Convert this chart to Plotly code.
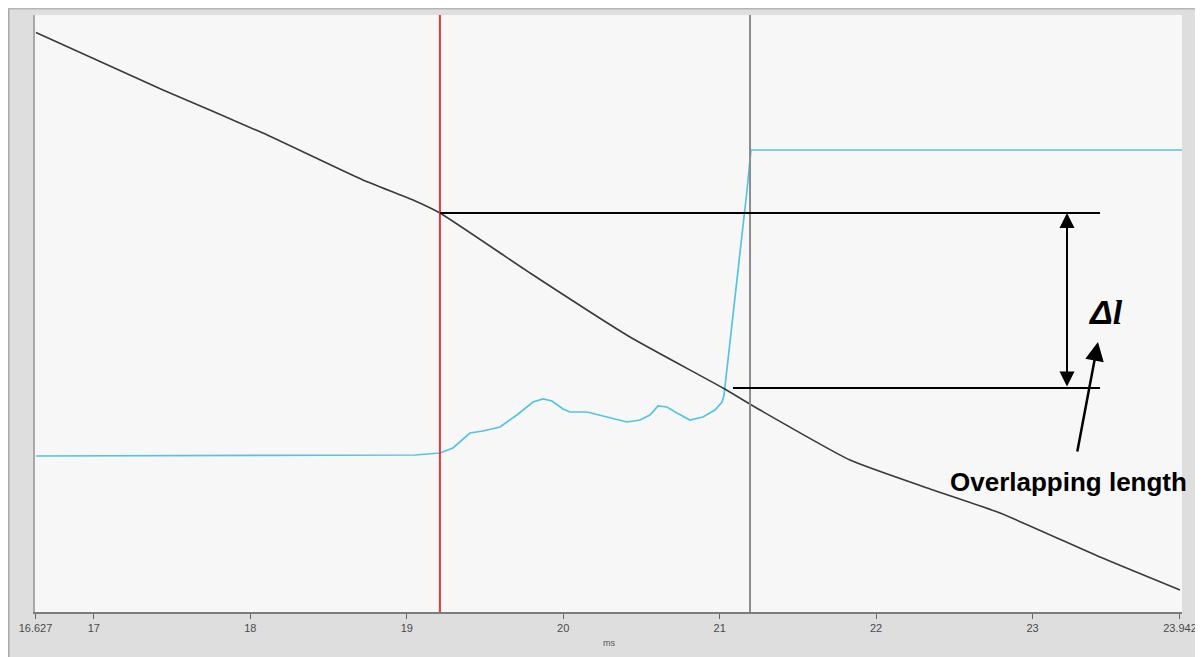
import plotly.graph_objects as go

# ---------------- data ----------------
x_tick_values = [16.627, 17, 18, 19, 20, 21, 22, 23, 23.942]
x_tick_labels = ["16.627", "17", "18", "19", "20", "21", "22", "23", "23.942"]

black_x = [16.630, 17.442, 18.081, 18.720, 19.040, 19.212, 19.788, 20.427,
           21.021, 21.258, 21.833, 22.364, 22.792, 23.431, 23.942]
black_y = [97.07, 87.44, 80.23, 72.36, 69.01, 66.83, 56.78, 46.06,
           37.52, 33.84, 25.46, 20.44, 16.58, 9.21, 3.69]

cyan_x = [16.630, 19.053, 19.212, 19.295, 19.404, 19.487, 19.596, 19.704,
          19.807, 19.871, 19.928, 19.999, 20.043, 20.152, 20.280, 20.407,
          20.491, 20.554, 20.606, 20.663, 20.727, 20.810, 20.893, 20.970,
          21.015, 21.028, 21.175, 21.200, 23.955]
cyan_y = [26.13, 26.30, 26.63, 27.47, 29.98, 30.32, 30.99, 33.00,
          35.18, 35.68, 35.34, 34.00, 33.50, 33.50, 32.66, 31.83,
          32.16, 33.00, 34.51, 34.34, 33.33, 32.16, 32.66, 33.84,
          35.18, 36.35, 70.69, 77.39, 77.39]

red_cursor_x = 19.212
gray_cursor_x = 21.194

# annotation geometry (data units)
upper_level_y = 66.83
lower_level_y = 37.52
upper_line_x = [19.212, 23.431]
lower_line_x = [21.085, 23.431]
delta_arrow_x = 23.220
pointer_tail = (23.284, 26.63)
pointer_head = (23.418, 45.23)
delta_label_pos = (23.463, 50.25)
overlap_label_pos = (23.232, 21.78)

X_RANGE = [16.624, 23.955]
Y_RANGE = [0, 100]

# ---------------- figure ----------------
fig = go.Figure()

fig.add_trace(go.Scatter(x=cyan_x, y=cyan_y, mode="lines",
                         line=dict(color="#55c3e6", width=1.7),
                         showlegend=False, hoverinfo="skip"))
fig.add_trace(go.Scatter(x=black_x, y=black_y, mode="lines",
                         line=dict(color="#3a3a3a", width=1.6,
                                   shape="spline", smoothing=0.5),
                         showlegend=False, hoverinfo="skip"))

# figure sits at page offset (8, 8); plot area 1147 x 597
L, T, PW, PH = 27, 7, 1147.0, 597.0
FW, FH = 1195, 649

def fx(p):   # figure-pixel x -> paper
    return (p - L) / PW
def fy(p):   # figure-pixel y -> paper
    return (T + PH - p) / PH

shapes = []
# panel border (top and left edges)
shapes.append(dict(type="line", xref="paper", yref="paper",
                   x0=fx(0.75), x1=fx(0.75), y0=fy(FH), y1=fy(0),
                   line=dict(color="#a9a9a9", width=1.5)))
shapes.append(dict(type="line", xref="paper", yref="paper",
                   x0=fx(0), x1=fx(FW), y0=fy(0.75), y1=fy(0.75),
                   line=dict(color="#b5b5b5", width=1.5)))

# cursors
shapes.append(dict(type="line", xref="x", yref="paper",
                   x0=red_cursor_x, x1=red_cursor_x, y0=0, y1=1,
                   line=dict(color="#e2383a", width=2)))
shapes.append(dict(type="line", xref="x", yref="paper",
                   x0=gray_cursor_x, x1=gray_cursor_x, y0=0, y1=1,
                   line=dict(color="#8c8c8c", width=2)))

# annotation level lines
shapes.append(dict(type="line", xref="x", yref="y",
                   x0=upper_line_x[0], x1=upper_line_x[1],
                   y0=upper_level_y, y1=upper_level_y,
                   line=dict(color="black", width=2)))
shapes.append(dict(type="line", xref="x", yref="y",
                   x0=lower_line_x[0], x1=lower_line_x[1],
                   y0=lower_level_y, y1=lower_level_y,
                   line=dict(color="black", width=2)))

annotations = []
annotations.append(dict(x=delta_arrow_x, y=upper_level_y, xref="x", yref="y",
                        ax=delta_arrow_x, ay=lower_level_y, axref="x", ayref="y",
                        text="", showarrow=True, arrowside="end+start",
                        arrowhead=2, startarrowhead=2, arrowsize=1.5,
                        startarrowsize=1.5, arrowwidth=2, arrowcolor="black",
                        standoff=0, startstandoff=0))
annotations.append(dict(x=pointer_head[0], y=pointer_head[1], xref="x", yref="y",
                        ax=pointer_tail[0], ay=pointer_tail[1], axref="x", ayref="y",
                        text="", showarrow=True, arrowhead=2, arrowsize=1.5,
                        arrowwidth=2.5, arrowcolor="black", standoff=0))
annotations.append(dict(x=delta_label_pos[0], y=delta_label_pos[1], xref="x", yref="y",
                        text="<b><i>Δ</i></b><b><i><span style=\"font-family:'Liberation Serif'\">l</span></i></b>",
                        showarrow=False,
                        font=dict(family="Liberation Sans, Arial", size=34, color="black")))
annotations.append(dict(x=overlap_label_pos[0], y=overlap_label_pos[1], xref="x", yref="y",
                        text="<b>Overlapping length</b>", showarrow=False,
                        font=dict(family="Liberation Sans, Arial", size=26, color="black")))
annotations.append(dict(x=0.5, y=fy(643 - 8), xref="paper", yref="paper",
                        xanchor="center", yanchor="middle",
                        text="ms", showarrow=False,
                        font=dict(family="Liberation Sans, Arial", size=9, color="#555")))

fig.update_layout(
    width=FW, height=FH,
    margin=dict(l=L, r=FW - L - int(PW), t=T, b=FH - T - int(PH), pad=0),
    paper_bgcolor="#dedede",
    plot_bgcolor="#f7f7f7",
    shapes=shapes,
    annotations=annotations,
    showlegend=False,
    xaxis=dict(range=X_RANGE, tickmode="array", tickvals=x_tick_values,
               ticktext=x_tick_labels, showgrid=False, zeroline=False,
               showline=True, linecolor="#7d7d7d", linewidth=2,
               ticks="outside", ticklen=5, tickcolor="#666", tickwidth=1,
               tickfont=dict(family="Liberation Sans, Arial", size=11, color="#4a4a4a")),
    yaxis=dict(range=Y_RANGE, showticklabels=False, showgrid=False, zeroline=False,
               showline=True, linecolor="#a8a8a8", linewidth=2, ticks=""),
)

fig.write_html("out.html")
